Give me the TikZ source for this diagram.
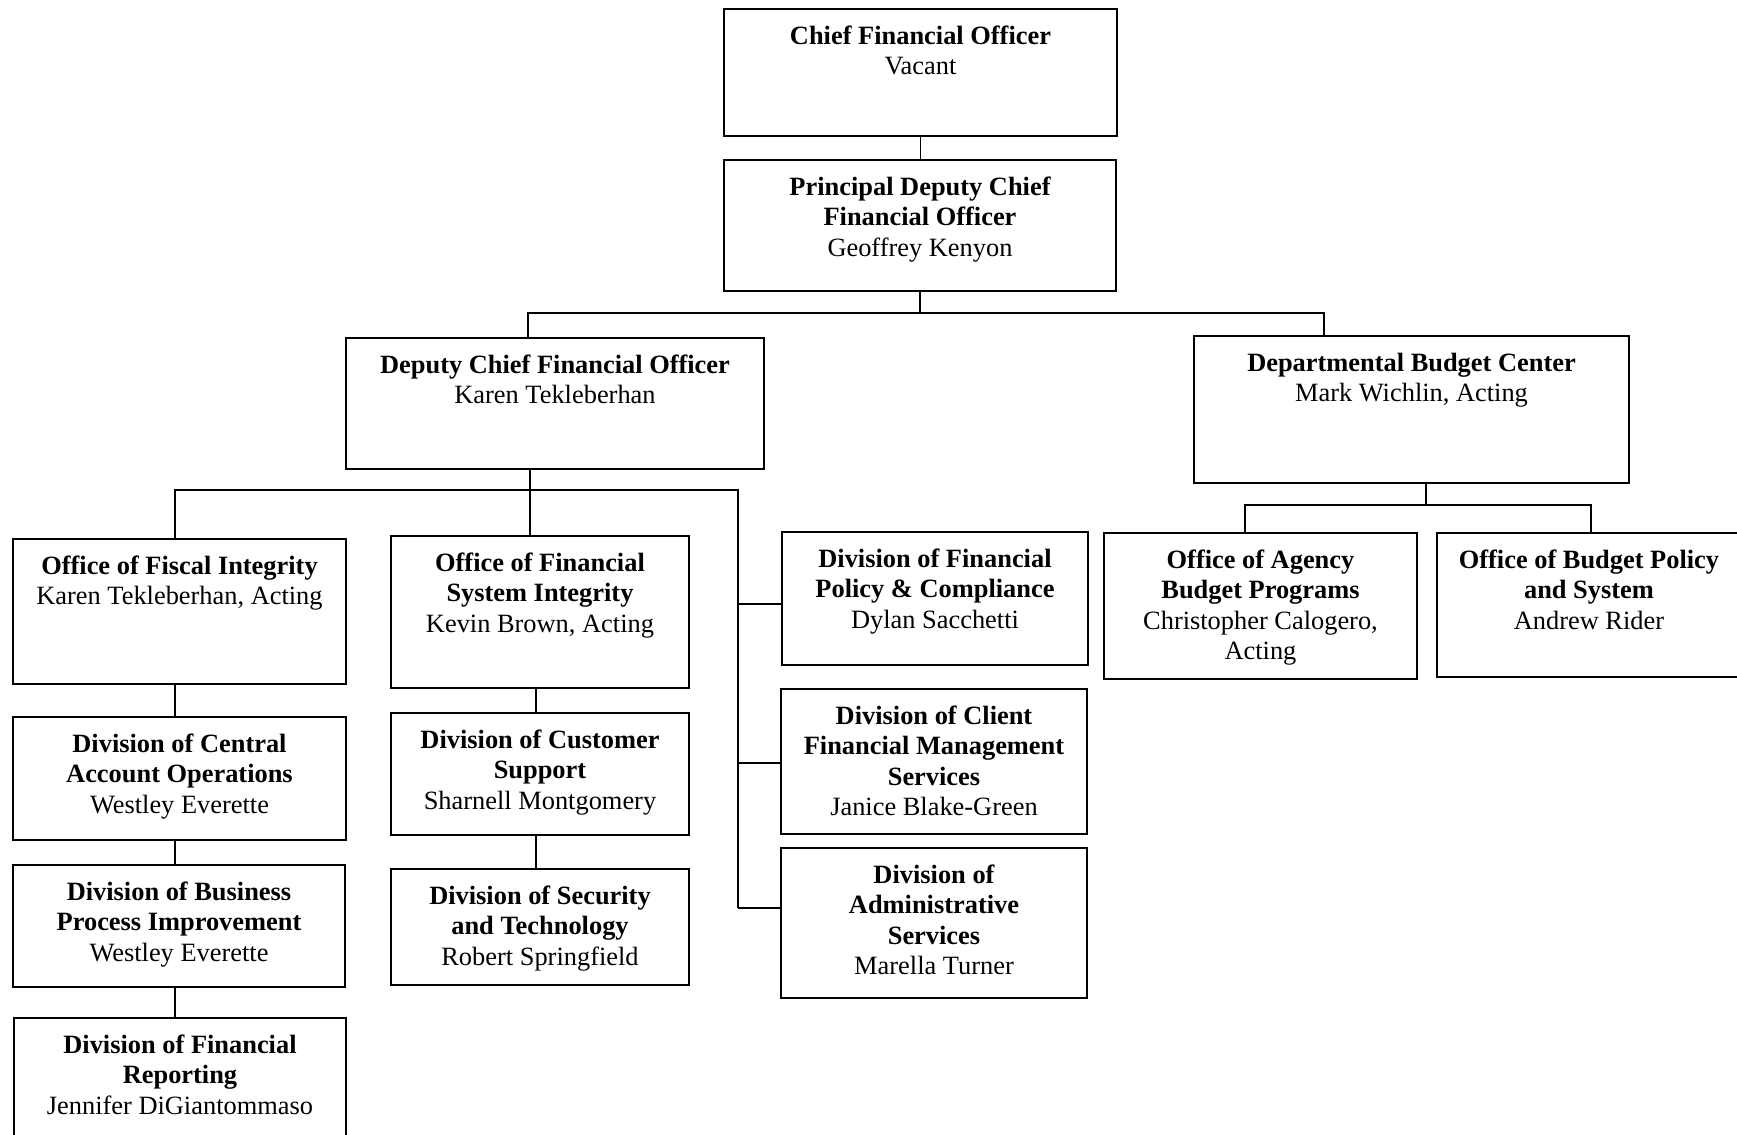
\documentclass[tikz,border=0pt]{standalone}
\usepackage{fontspec}
\setmainfont{Liberation Serif}
\usetikzlibrary{positioning,calc}

% one pixel of the chart
\newdimen\pxu \pxu=0.5pt
% box contents: width, height (px), title, name
\newcommand{\unittext}[4]{\parbox[t][#2\pxu][t]{#1\pxu}{\centering\rule{0pt}{17.5pt}\textbf{#3}\\#4}}

\tikzset{
  unit/.style={draw, line width=1pt, inner sep=0pt, anchor=north west,
    font=\fontsize{13.2pt}{15.3pt}\selectfont},
  link/.style={line width=0.8pt}
}

\begin{document}
\begin{tikzpicture}[x=0.5pt, y=-0.5pt]
    \useasboundingbox (0,0) rectangle (1737,1135);
    \clip (0,0) rectangle (1737,1135);

    % Top of the office
    \node[unit] (cfo) at (723,8) {\unittext{393}{127}{Chief Financial Officer}{Vacant}};
    \node[unit] (pdcfo) at (723,159) {\unittext{392}{131}{Principal Deputy Chief\\Financial Officer}{Geoffrey Kenyon}};
    \node[unit] (dcfo) at (345,337) {\unittext{418}{131}{Deputy Chief Financial Officer}{Karen Tekleberhan}};
    \node[unit] (dbc) at (1193,335) {\unittext{435}{147}{Departmental Budget Center}{Mark Wichlin, Acting}};

    % Fiscal integrity column
    \node[unit] (ofi) at (12,538) {\unittext{333}{145}{Office of Fiscal Integrity}{Karen Tekleberhan, Acting}};
    \node[unit] (dcao) at (12,716) {\unittext{333}{123}{Division of Central\\Account Operations}{Westley Everette}};
    \node[unit] (dbpi) at (12,864) {\unittext{332}{122}{Division of Business\\Process Improvement}{Westley Everette}};
    \node[unit] (dfr) at (13,1017) {\unittext{332}{150}{Division of Financial\\Reporting}{Jennifer DiGiantommaso}};

    % Financial system integrity column
    \node[unit] (ofsi) at (390,535) {\unittext{298}{152}{Office of Financial\\System Integrity}{Kevin Brown, Acting}};
    \node[unit] (dcs) at (390,712) {\unittext{298}{122}{Division of Customer\\Support}{Sharnell Montgomery}};
    \node[unit] (dst) at (390,868) {\unittext{298}{116}{Division of Security\\and Technology}{Robert Springfield}};

    % Divisions under the deputy
    \node[unit] (dfpc) at (781,531) {\unittext{306}{133}{Division of Financial\\Policy \& Compliance}{Dylan Sacchetti}};
    \node[unit] (dcfms) at (780,688) {\unittext{306}{145}{Division of Client\\Financial Management\\Services}{Janice Blake-Green}};
    \node[unit] (das) at (780,847) {\unittext{306}{150}{Division of\\Administrative\\Services}{Marella Turner}};

    % Budget center offices
    \node[unit] (oabp) at (1103,532) {\unittext{313}{146}{Office of Agency\\Budget Programs}{Christopher Calogero,\\Acting}};
    \node[unit] (obps) at (1436,532) {\unittext{304}{144}{Office of Budget Policy\\and System}{Andrew Rider}\kern20\pxu};

    % Bus points
    \coordinate (busA) at (528,313);
    \coordinate (busB) at (1324,313);
    \coordinate (busC) at (175,490);
    \coordinate (busD) at (738,490);
    \coordinate (stemD) at (530,490);
    \coordinate (stemF) at (536,700);
    \coordinate (busE) at (1245,505);
    \coordinate (busF) at (1591,505);
    \coordinate (stemE) at (1426,505);

    % Upper links
    \draw[link] (cfo.south) -- (cfo.south |- pdcfo.north);
    \draw[link] (pdcfo.south) -- (pdcfo.south |- busA);
    \draw[link] (busA |- dcfo.north) -- (busA) -- (busB) -- (busB |- dbc.north);

    % Deputy links
    \draw[link] (stemD |- dcfo.south) -- (stemD |- ofsi.north);
    \draw[link] (busC |- ofi.north) -- (busC) -- (busD) -- (busD |- 0,908);
    \draw[link] (busD |- 0,604) -- (dfpc.west |- 0,604);
    \draw[link] (busD |- 0,763) -- (dcfms.west |- 0,763);
    \draw[link] (busD |- 0,908) -- (das.west |- 0,908);

    % Column links
    \draw[link] (busC |- ofi.south) -- (busC |- dcao.north);
    \draw[link] (busC |- dcao.south) -- (busC |- dbpi.north);
    \draw[link] (busC |- dbpi.south) -- (busC |- dfr.north);
    \draw[link] (stemF |- ofsi.south) -- (stemF |- dcs.north);
    \draw[link] (stemF |- dcs.south) -- (stemF |- dst.north);

    % Budget center links
    \draw[link] (stemE |- dbc.south) -- (stemE);
    \draw[link] (busE |- oabp.north) -- (busE) -- (busF) -- (busF |- obps.north);
\end{tikzpicture}
\end{document}
